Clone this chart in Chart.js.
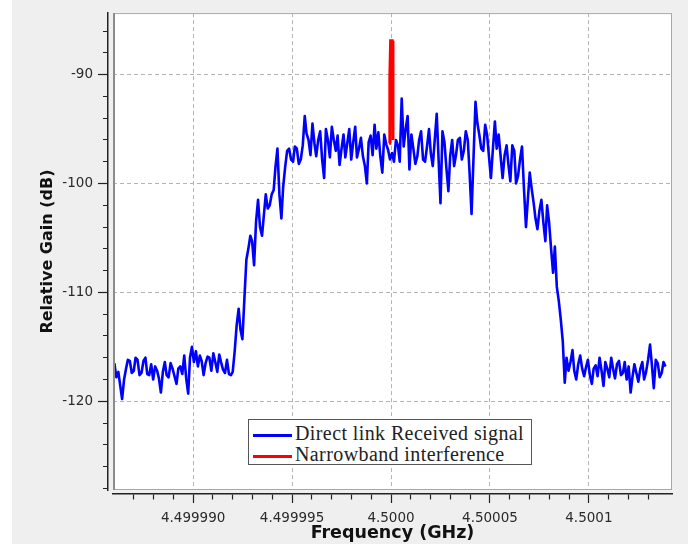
<!DOCTYPE html>
<html>
<head>
<meta charset="utf-8">
<script src="https://cdn.jsdelivr.net/npm/chart.js@4.4.1/dist/chart.umd.min.js"></script>
<style>
  html, body { margin: 0; padding: 0; background: #fff; }
  #wrap { position: relative; width: 688px; height: 544px; }
  #legend {
    position: absolute; left: 248px; top: 419px; width: 284px; height: 46px;
    box-sizing: border-box; background: #fff; border: 1px solid #555;
    font: 20px "Liberation Serif", serif; letter-spacing: 0.4px; color: #222;
    padding: 3px 0 0 4px;
  }
  #legend .item { height: 21px; line-height: 21px; white-space: nowrap; }
  #legend .swatch { display: inline-block; width: 39px; height: 3px; vertical-align: middle; margin-right: 3px; }
</style>
</head>
<body>
<div id="wrap">
  <canvas id="spectrum" width="688" height="544"></canvas>
  <div id="legend"></div>
</div>
<script>
// x positions: kHz offset from 4.5000 GHz as laid out on the axis
const freqAxis = [
  -13.98, -13.88, -13.78, -13.69, -13.59, -13.49, -13.39, -13.30, -13.20, -13.10,
  -13.00, -12.91, -12.81, -12.71, -12.61, -12.51, -12.41, -12.32, -12.22, -12.12,
  -12.02, -11.92, -11.82, -11.73, -11.63, -11.53, -11.43, -11.34, -11.24, -11.14,
  -11.04, -10.94, -10.84, -10.75, -10.65, -10.55, -10.45, -10.35, -10.25, -10.16,
  -10.06, -9.96, -9.86, -9.76, -9.66, -9.57, -9.47, -9.37, -9.27, -9.18,
  -9.08, -8.98, -8.88, -8.78, -8.68, -8.59, -8.49, -8.39, -8.29, -8.19,
  -8.09, -8.00, -7.90, -7.80, -7.70, -7.61, -7.51, -7.41, -7.31, -7.21,
  -7.11, -7.02, -6.92, -6.82, -6.72, -6.62, -6.52, -6.43, -6.33, -6.23,
  -6.13, -6.03, -5.93, -5.84, -5.74, -5.64, -5.54, -5.45, -5.35, -5.25,
  -5.15, -5.05, -4.95, -4.86, -4.76, -4.66, -4.56, -4.46, -4.36, -4.27,
  -4.17, -4.07, -3.97, -3.87, -3.78, -3.68, -3.58, -3.48, -3.38, -3.29,
  -3.19, -3.09, -2.99, -2.89, -2.79, -2.70, -2.60, -2.50, -2.40, -2.31,
  -2.21, -2.11, -2.01, -1.91, -1.81, -1.72, -1.62, -1.52, -1.42, -1.32,
  -1.22, -1.13, -1.03, -0.93, -0.83, -0.74, -0.64, -0.54, -0.44, -0.34,
  -0.24, -0.15, -0.05, 0.05, 0.15, 0.25, 0.35, 0.44, 0.54, 0.64,
  0.74, 0.84, 0.93, 1.03, 1.13, 1.23, 1.33, 1.42, 1.52, 1.62,
  1.72, 1.82, 1.92, 2.01, 2.11, 2.21, 2.31, 2.40, 2.50, 2.60,
  2.70, 2.80, 2.90, 2.99, 3.09, 3.19, 3.29, 3.38, 3.48, 3.58,
  3.68, 3.78, 3.88, 3.97, 4.07, 4.17, 4.27, 4.36, 4.46, 4.56,
  4.66, 4.76, 4.86, 4.95, 5.05, 5.15, 5.25, 5.34, 5.44, 5.54,
  5.64, 5.74, 5.84, 5.93, 6.03, 6.13, 6.23, 6.32, 6.42, 6.52,
  6.62, 6.72, 6.82, 6.91, 7.01, 7.11, 7.21, 7.30, 7.40, 7.50,
  7.60, 7.70, 7.80, 7.89, 7.99, 8.09, 8.19, 8.28, 8.38, 8.48,
  8.58, 8.68, 8.78, 8.87, 8.97, 9.07, 9.17, 9.26, 9.36, 9.46,
  9.56, 9.66, 9.76, 9.85, 9.95, 10.05, 10.15, 10.24, 10.34, 10.44,
  10.54, 10.64, 10.74, 10.83, 10.93, 11.03, 11.13, 11.22, 11.32, 11.42,
  11.52, 11.62, 11.72, 11.81, 11.91, 12.01, 12.11, 12.20, 12.30, 12.40,
  12.50, 12.60, 12.70, 12.79, 12.89, 12.99, 13.09, 13.18, 13.28, 13.38,
  13.48, 13.58, 13.68, 13.77, 13.87
];
const gainDb = [
  -116.5, -117.8, -117.3, -118.5, -119.8, -118.0, -117.0, -116.2, -116.3, -117.4,
  -117.2, -116.0, -116.2, -117.6, -117.4, -116.3, -116.0, -117.5, -117.6, -116.6,
  -118.0, -116.8, -117.2, -117.9, -119.2, -117.3, -116.4, -117.6, -117.8, -116.5,
  -117.0, -117.7, -118.4, -117.0, -116.8, -117.5, -115.8, -117.9, -119.3, -116.0,
  -115.0, -116.4, -115.4, -116.8, -115.8, -116.3, -117.6, -116.5, -115.9, -116.0,
  -117.2, -115.6, -116.4, -117.3, -115.7, -116.4, -117.1, -117.4, -116.2, -117.5,
  -117.6, -117.3, -115.4, -113.0, -111.5, -113.4, -114.3, -110.6, -107.0, -106.0,
  -104.8, -105.3, -107.5, -103.5, -101.5, -104.0, -104.8, -103.0, -101.0, -102.3,
  -102.0, -101.0, -100.6, -98.5, -96.8, -101.0, -103.2, -100.3, -98.5, -97.0,
  -96.8, -97.8, -98.0, -96.6, -96.8, -98.2, -97.8, -96.5, -93.8, -95.4,
  -96.0, -97.4, -94.5, -96.3, -97.5, -96.0, -95.2, -97.8, -99.5, -95.0,
  -96.0, -97.6, -94.8, -96.0, -97.0, -95.6, -98.3, -96.8, -95.5, -97.6,
  -96.3, -95.0, -97.8, -96.2, -94.8, -97.6, -96.8, -95.8, -97.5, -98.4,
  -100.0, -96.2, -95.6, -97.4, -94.6, -96.8, -95.3, -97.5, -99.0, -95.5,
  -96.4, -96.9, -97.8, -97.2, -98.0, -96.0, -96.5, -98.0, -92.2, -96.6,
  -95.0, -93.8, -98.7, -95.5, -96.8, -98.2, -97.5, -96.0, -95.2, -97.8,
  -98.0, -96.6, -95.0, -97.2, -98.4, -96.0, -93.6, -97.6, -101.8, -95.2,
  -96.2, -98.6, -100.7, -97.5, -96.0, -98.4, -97.3, -96.0, -95.8, -97.8,
  -97.0, -95.2, -96.0, -99.0, -102.8, -97.6, -92.5, -94.4, -95.5, -96.8,
  -97.0, -94.6, -95.6, -97.5, -99.5, -96.8, -94.3, -96.8, -95.5, -97.5,
  -99.5, -97.4, -96.5, -98.2, -99.8, -96.5, -97.0, -100.0, -99.3, -97.8,
  -96.6, -100.5, -104.0, -101.6, -99.0, -100.5, -101.8, -103.2, -104.2, -102.5,
  -101.5, -103.6, -105.3, -102.0, -103.6, -106.0, -108.2, -105.8, -109.5, -110.8,
  -112.5, -114.5, -118.3, -116.0, -117.2, -116.4, -115.3, -117.2, -118.0, -116.6,
  -115.8, -117.0, -117.7, -116.9, -116.2, -117.6, -118.4, -117.0, -116.7, -117.7,
  -116.0, -117.2, -118.6, -116.4, -117.0, -117.8, -116.0, -117.0, -117.9, -116.6,
  -116.3, -117.6, -117.4, -116.4, -118.0, -116.8, -119.2, -117.8, -116.6, -117.4,
  -118.2, -117.0, -116.4, -118.0, -117.3, -116.2, -114.8, -116.6, -118.8, -116.2,
  -116.5, -117.8, -117.4, -116.4, -116.8
];
// narrowband interference spike
const spikeFreq = [-0.10, -0.06, -0.02, 0.06, 0.10];
const spikeGain = [-96.3, -90.2, -86.9, -86.9, -96.0];

const xMajorTicks = [-10, -5, 0, 5, 10];
const xTickLabels = ['4.499990', '4.499995', '4.5000', '4.50005', '4.5001'];
const xMinorTicks = [-13, -12, -11, -10, -9, -8, -7, -6, -5, -4, -3, -2, -1, 0,
  1, 2, 3, 4, 5, 6, 7, 8, 9, 10, 11, 12, 13];
const yMajorTicks = [-120, -110, -100, -90];
const yMinorTicks = [-128, -126, -124, -122, -120, -118, -116, -114, -112, -110, -108,
  -106, -104, -102, -100, -98, -96, -94, -92, -90, -88, -86];

const X_MIN = -14.05, X_MAX = 14.2;
const Y_MIN = -128.15, Y_MAX = -84.35;
const gridGray = '#b4b4b4';
const axisInk = '#222';

const toPoints = (xs, ys) => xs.map((x, i) => ({ x: x, y: ys[i] }));

// grey surround, white plot area and frame
const panelPlugin = {
  id: 'panel',
  beforeDraw(chart) {
    const { ctx, chartArea: a, width, height } = chart;
    ctx.save();
    ctx.fillStyle = '#fff';
    ctx.fillRect(0, 0, width, height);
    ctx.fillStyle = '#efefef';
    ctx.fillRect(12, 0, width - 12, height);
    ctx.fillStyle = '#fff';
    ctx.fillRect(a.left, a.top, a.right - a.left, a.bottom - a.top);
    ctx.restore();
  },
  afterDraw(chart) {
    const { ctx, chartArea: a } = chart;
    ctx.save();
    ctx.strokeStyle = '#a8a8a8';
    ctx.lineWidth = 1;
    ctx.strokeRect(a.left + 0.5, a.top + 0.5, a.right - a.left - 1, a.bottom - a.top - 1);
    ctx.strokeStyle = '#8c8c8c';
    ctx.lineWidth = 2;
    ctx.beginPath();
    ctx.moveTo(a.left + 1, a.top);
    ctx.lineTo(a.left + 1, a.bottom);
    ctx.stroke();
    ctx.restore();
  }
};

const legendPlugin = {
  id: 'htmlLegend',
  afterUpdate(chart) {
    const box = document.getElementById('legend');
    box.innerHTML = '';
    chart.data.datasets.forEach(ds => {
      const row = document.createElement('div');
      row.className = 'item';
      const sw = document.createElement('span');
      sw.className = 'swatch';
      sw.style.background = ds.borderColor;
      const txt = document.createElement('span');
      txt.textContent = ds.label;
      row.append(sw, txt);
      box.appendChild(row);
    });
  }
};

const ctx = document.getElementById('spectrum').getContext('2d');
const chart = new Chart(ctx, {
  type: 'line',
  data: {
    datasets: [{
      label: 'Direct link Received signal',
      data: toPoints(freqAxis, gainDb),
      borderColor: '#0000ff',
      borderWidth: 2.6,
      borderJoinStyle: 'round',
      pointRadius: 0,
      tension: 0,
      order: 1
    }, {
      label: 'Narrowband interference',
      data: toPoints(spikeFreq, spikeGain),
      borderColor: '#ff0000',
      borderWidth: 3,
      pointRadius: 0,
      tension: 0,
      order: 0
    }]
  },
  options: {
    responsive: false,
    devicePixelRatio: 1,
    animation: false,
    events: [],
    layout: { padding: { left: 0, top: 8, right: 16, bottom: 0 } },
    plugins: { legend: { display: false }, tooltip: { enabled: false } },
    scales: {
      // inner axes: dashed grid + small gap to the drawn axis lines
      x: {
        type: 'linear', position: 'bottom', weight: 0, min: X_MIN, max: X_MAX,
        afterBuildTicks: s => { s.ticks = xMajorTicks.map(v => ({ value: v })); },
        ticks: { display: false },
        grid: { color: gridGray, lineWidth: 1, drawTicks: true, tickLength: 4, tickColor: 'rgba(0,0,0,0)' },
        border: { display: false, dash: [4, 3] }
      },
      y: {
        type: 'linear', position: 'left', weight: 0, min: Y_MIN, max: Y_MAX,
        afterBuildTicks: s => { s.ticks = yMajorTicks.map(v => ({ value: v })); },
        ticks: { display: false },
        grid: { color: gridGray, lineWidth: 1, drawTicks: true, tickLength: 5, tickColor: 'rgba(0,0,0,0)' },
        border: { display: false, dash: [4, 3] }
      },
      // outer axes: axis line, major/minor tick marks, labels, titles
      x2: {
        type: 'linear', position: 'bottom', weight: 1, min: X_MIN, max: X_MAX,
        afterBuildTicks: s => { s.ticks = xMinorTicks.map(v => ({ value: v })); },
        afterFit: s => { s.height = 50; },
        ticks: {
          autoSkip: false, maxRotation: 0, padding: 7, color: '#2a2a2a',
          font: { family: 'DejaVu Sans', size: 13.5 },
          callback: v => { const i = xMajorTicks.indexOf(v); return i >= 0 ? xTickLabels[i] : ''; }
        },
        grid: {
          drawOnChartArea: false, drawTicks: true, tickLength: 9, tickColor: axisInk,
          tickWidth: 1.2,
          tickBorderDash: c => (xMajorTicks.includes(c.tick.value) ? [] : [5, 100])
        },
        border: { display: true, color: axisInk, width: 1.5 },
        title: {
          display: true, text: 'Frequency (GHz)', color: '#111',
          font: { family: 'DejaVu Sans', size: 17.5, weight: 'bold' },
          padding: { top: 0, bottom: 0 }
        }
      },
      y2: {
        type: 'linear', position: 'left', weight: 1, min: Y_MIN, max: Y_MAX,
        afterBuildTicks: s => { s.ticks = yMinorTicks.map(v => ({ value: v })); },
        afterFit: s => { s.width = 108; },
        ticks: {
          autoSkip: false, padding: 5, color: '#2a2a2a',
          font: { family: 'DejaVu Sans', size: 13.5 },
          callback: v => (yMajorTicks.includes(v) ? String(v) : '')
        },
        grid: {
          drawOnChartArea: false, drawTicks: true, tickLength: 10, tickColor: axisInk,
          tickWidth: 1.2,
          tickBorderDash: c => (yMajorTicks.includes(c.tick.value) ? [] : [0, 5, 5, 100])
        },
        border: { display: true, color: axisInk, width: 1.5 },
        title: {
          display: true, text: 'Relative Gain (dB)', color: '#111',
          font: { family: 'DejaVu Sans', size: 16, weight: 'bold' },
          padding: { top: 38, bottom: 0 }
        }
      }
    }
  },
  plugins: [panelPlugin, legendPlugin]
});
</script>
</body>
</html>
